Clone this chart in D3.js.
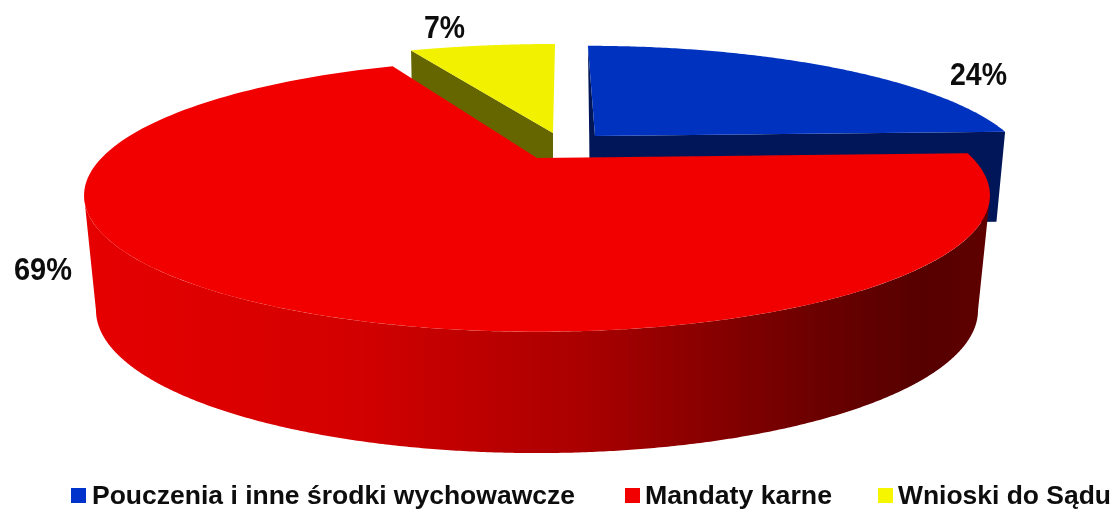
<!DOCTYPE html>
<html><head><meta charset="utf-8">
<script src="https://cdn.jsdelivr.net/npm/d3@7"></script>
<style>html,body{margin:0;padding:0;background:#fff}svg{display:block}text{font-family:"Liberation Sans",Arial,sans-serif;font-weight:bold;fill:#0a0a0a}</style>
</head><body><svg id="c" width="1117" height="509"></svg>
<script>
const categories = ["Pouczenia i inne środki wychowawcze", "Mandaty karne", "Wnioski do Sądu"];
const values = [24.4, 68.8, 6.8];
const valueLabels = ["24%", "69%", "7%"];
const topColors = ["#0033c0", "#f20000", "#f2f200"];
const wallColors = ["#001858", "#c00000", "#666600"];
const legendColors = ["#0033cc", "#f20000", "#f6f600"];

const K = -0.275;   // perspective of the disc plane
// every slice: top and bottom disc geometry (exploded, so each has its own apex)
const discs = [
  {top:{x:595,y:136,rx:415,ry:115,s:9},   low:{x:590,y:226,rx:411,ry:115,s:1}},
  {top:{x:537,y:158,rx:435.5,ry:126,s:0}, low:{x:537,y:271,rx:424,ry:132,s:0}},
  {top:{x:553,y:133,rx:434,ry:113.5,s:-2.6}, low:{x:553,y:235,rx:428,ry:113.5,s:-2.6}}
];
const project = (d, a) => {
  const u = Math.sin(a), v = -Math.cos(a), w = 1 + K * v;
  return [d.x + (d.rx * u + d.s * v) / w, d.y + d.ry * v / w];
};
const rim = (d, a0, a1, n = 160) => d3.range(n + 1).map(i => project(d, a0 + (a1 - a0) * i / n));
const apex = d => [d.x, d.y];
const line = d3.line();

const svg = d3.select("#c");
const arcs = d3.pie().sort(null)(values);

const defs = svg.append("defs");
const grad = defs.append("linearGradient")
  .attr("id", "wall").attr("gradientUnits", "userSpaceOnUse")
  .attr("x1", 90).attr("x2", 985).attr("y1", 0).attr("y2", 0);
[[0, "#e60000"], [0.3, "#d20000"], [0.55, "#aa0000"], [0.8, "#6e0000"], [0.93, "#560000"], [1, "#5e0000"]]
  .forEach(([o, c]) => grad.append("stop").attr("offset", o).attr("stop-color", c));
defs.append("filter").attr("id", "soft").attr("x", "-2%").attr("y", "-5%").attr("width", "104%").attr("height", "110%")
  .append("feGaussianBlur").attr("stdDeviation", 0.5);

const root = svg.append("g").attr("filter", "url(#soft)");
const g = root.append("g");
function drawSlice(i) {
  const {top, low} = discs[i], arc = arcs[i];
  const a0 = arc.startAngle, a1 = arc.endAngle;
  if (i === 1) {
    // outer wall of the big slice, between the silhouette extremes
    const near = d => {
      const pts = rim(d, a0, a1, 720);
      const r = d3.maxIndex(pts, p => p[0]), l = d3.minIndex(pts, p => p[0]);
      return pts.slice(r, l + 1);
    };
    const wall = near(top).concat(near(low).reverse());
    g.append("path").attr("d", line(wall) + "Z").attr("fill", "url(#wall)");
  } else if (i === 0) {
    const poly = [project(top, a0), apex(top), project(top, a1),
                  project(low, a1), apex(low), project(low, a0)];
    g.append("path").attr("d", line(poly) + "Z").attr("fill", wallColors[i]);
  } else {
    const poly = [project(top, a0), apex(top), apex(low), project(low, a0)];
    g.append("path").attr("d", line(poly) + "Z").attr("fill", wallColors[i]);
  }
  const face = [apex(top)].concat(rim(top, a0, a1));
  g.append("path").attr("d", line(face) + "Z").attr("fill", topColors[i]);
}
[0, 2, 1].forEach(drawSlice);

// value labels
const labelPos = [[950, 85, 57], [14, 280, 58], [424, 38, 41]];
valueLabels.forEach((t, i) => {
  root.append("text").attr("x", labelPos[i][0]).attr("y", labelPos[i][1])
    .attr("font-size", 32).attr("textLength", labelPos[i][2])
    .attr("lengthAdjust", "spacingAndGlyphs").text(t);
});

// legend
const legendPos = [[71, 92, 483], [625, 645, 187], [878, 898, 213]];
categories.forEach((t, i) => {
  root.append("rect").attr("x", legendPos[i][0]).attr("y", 488).attr("width", 15).attr("height", 15)
    .attr("fill", legendColors[i]);
  root.append("text").attr("x", legendPos[i][1]).attr("y", 503.5)
    .attr("font-size", 25).attr("textLength", legendPos[i][2])
    .attr("lengthAdjust", "spacingAndGlyphs").text(t);
});
</script></body></html>
